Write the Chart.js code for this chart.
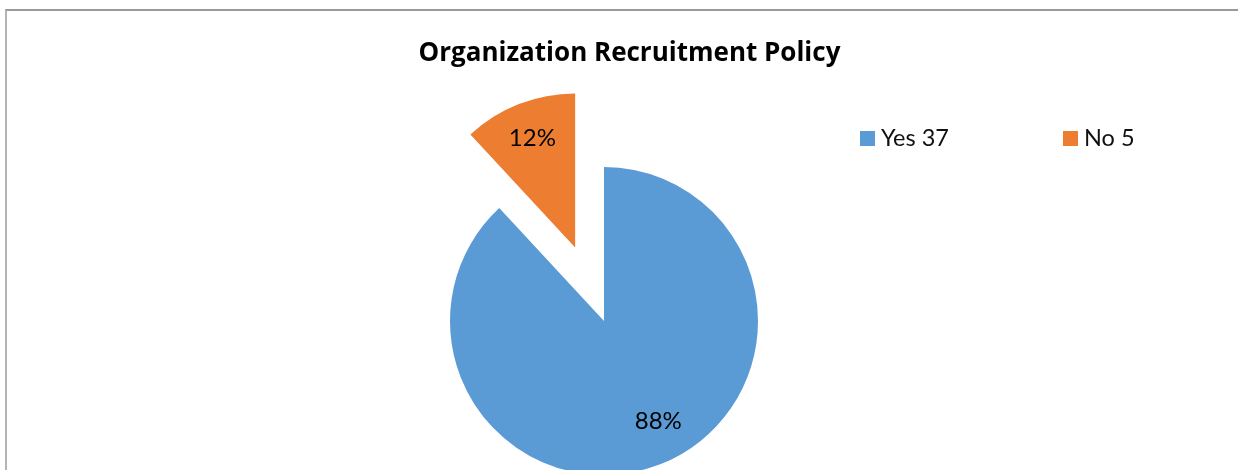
<!DOCTYPE html>
<html>
<head>
<meta charset="utf-8">
<script src="https://cdn.jsdelivr.net/npm/chart.js@4/dist/chart.umd.min.js"></script>
<style>
  html, body { margin: 0; padding: 0; background: #fff; }
  #wrap { position: relative; width: 1238px; height: 470px; overflow: hidden; font-family: Lato, "Open Sans", sans-serif; }
  #frame { position: absolute; left: 5px; top: 9px; width: 1400px; height: 800px; border-top: 2px solid #9a9a9a; border-left: 2px solid #b4b4b4; }
  #chart { position: absolute; left: 0; top: 0; }
  #title { position: absolute; left: 0; width: 1259px; top: 34px; line-height: 35px; text-align: center; font-family: "Open Sans", sans-serif; font-weight: bold; font-size: 26px; color: #000; }
  .leg { position: absolute; top: 122px; line-height: 30px; font-size: 23.5px; color: #111; white-space: nowrap; }
  .leg i { display: inline-block; width: 15px; height: 15px; margin-right: 6px; vertical-align: 0px; }
</style>
</head>
<body>
<div id="wrap">
  <div id="frame"></div>
  <canvas id="chart" width="1208" height="642"></canvas>
  <div id="title">Organization Recruitment Policy</div>
  <div class="leg" id="leg0" style="left:860px"></div>
  <div class="leg" id="leg1" style="left:1063px"></div>
</div>
<script>
const categories = ['Yes', 'No'];
const counts = [37, 5];
const colors = ['#5B9BD5', '#ED7D31'];
const explode = [0, 79];        // pixels the slice is pulled out
const labelTurn = [-7, 0];      // degrees, label placement tweak
const labelDist = [0.74, 0.76]; // fraction of radius
const pieRadius = 154;

const total = counts.reduce((a, b) => a + b, 0);
const percents = counts.map(v => Math.round(v / total * 100) + '%');

categories.forEach((c, i) => {
  document.getElementById('leg' + i).innerHTML =
    `<i style="background:${colors[i]}"></i>${c} ${counts[i]}`;
});

// chart.js grows an offset arc's radius and trims its angles a bit;
// undo that so the pulled-out slice keeps the same size as the pie
const keepSliceSize = {
  id: 'keepSliceSize',
  afterDatasetUpdate(chart, args) {
    args.meta.data.forEach((arc, i) => {
      if (!explode[i]) return;
      const fix = 1 - Math.sin(Math.min(Math.PI, arc.circumference));
      const ro = explode[i] * fix;
      const da = ro / (2 * Math.PI * pieRadius);
      arc.outerRadius = pieRadius - ro;
      arc.startAngle -= da;
      arc.endAngle += da;
    });
  }
};

// percent labels inside each slice
const sliceLabels = {
  id: 'sliceLabels',
  afterDatasetsDraw(chart) {
    const ctx = chart.ctx;
    const meta = chart.getDatasetMeta(0);
    ctx.save();
    ctx.font = '24px Lato, "Open Sans", sans-serif';
    ctx.fillStyle = '#000';
    ctx.textAlign = 'center';
    ctx.textBaseline = 'middle';
    meta.data.forEach((arc, i) => {
      const p = arc.getProps(['x', 'y', 'startAngle', 'endAngle']);
      const mid = (p.startAngle + p.endAngle) / 2;
      const cx = p.x + Math.cos(mid) * explode[i];
      const cy = p.y + Math.sin(mid) * explode[i];
      const a = mid + labelTurn[i] * Math.PI / 180;
      const r = pieRadius * labelDist[i];
      ctx.fillText(percents[i], cx + Math.cos(a) * r, cy + Math.sin(a) * r);
    });
    ctx.restore();
  }
};

new Chart(document.getElementById('chart'), {
  type: 'pie',
  data: {
    labels: categories,
    datasets: [{
      data: counts,
      backgroundColor: colors,
      borderWidth: 0,
      // chart.js moves an arc by offset / 4
      offset: explode.map(v => v * 4)
    }]
  },
  options: {
    responsive: false,
    animation: false,
    radius: pieRadius,
    layout: { padding: 0 },
    plugins: {
      legend: { display: false },
      title: { display: false },
      tooltip: { enabled: false }
    }
  },
  plugins: [keepSliceSize, sliceLabels]
});
</script>
</body>
</html>
